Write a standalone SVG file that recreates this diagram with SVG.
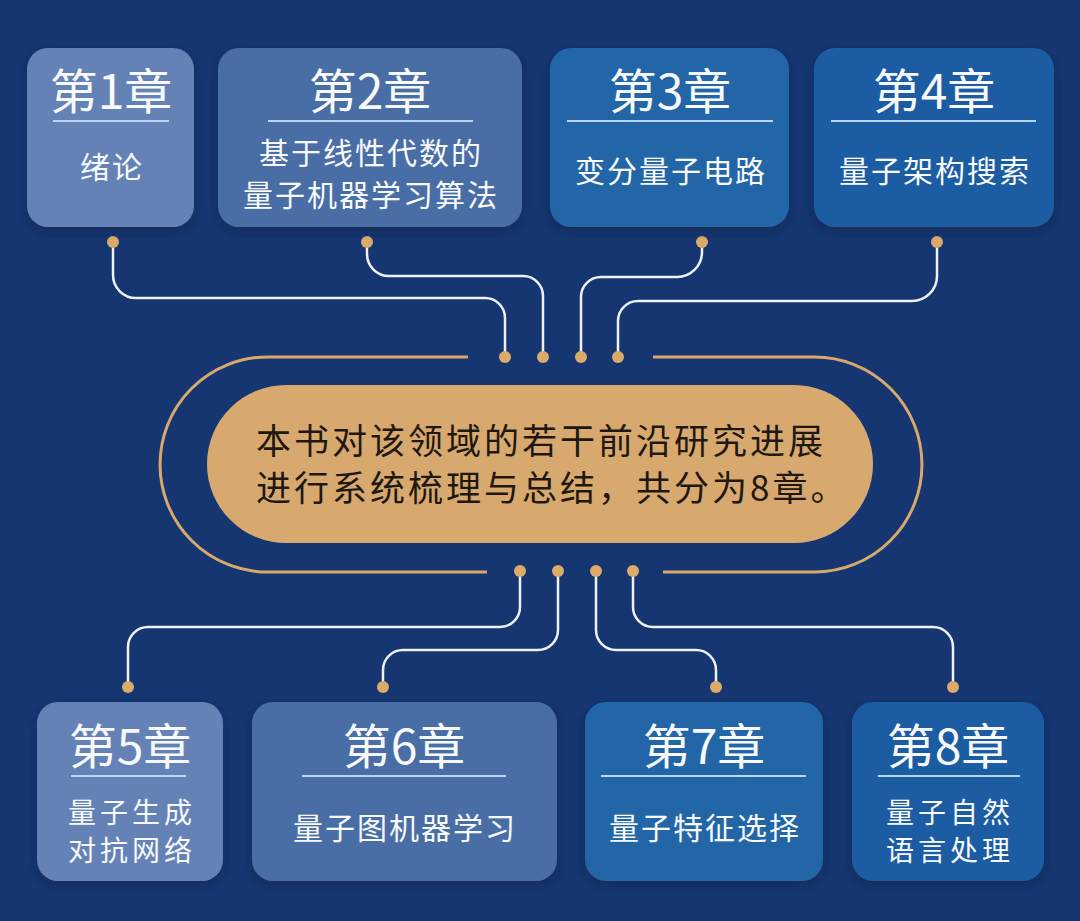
<svg xmlns="http://www.w3.org/2000/svg" width="1080" height="921" viewBox="0 0 1080 921">
<defs>
<style>
.bg{fill:#153670}
.c1{fill:#6582b7}
.c2{fill:#4a6da5}
.c3{fill:#2066a8}
.c4{fill:#1c5ba2}
.box{filter:url(#sh)}
.ttl{font-family:"Noto Sans CJK SC","Noto Sans",sans-serif;font-size:48px;fill:#f7f9fc;text-anchor:middle}
.sub{font-family:"Noto Sans CJK SC","Noto Sans",sans-serif;font-size:30px;fill:#f7f9fc;text-anchor:middle;letter-spacing:2px}
.sub2{font-family:"Noto Sans CJK SC","Noto Sans",sans-serif;font-size:28px;fill:#f7f9fc;text-anchor:middle;letter-spacing:4px}
.ul{stroke:#b7d6f4;stroke-width:2}
.wire{fill:none;stroke:#eef2f8;stroke-width:2.5}
.dot{fill:#dcaa69}
.ring{fill:none;stroke:#d9a86b;stroke-width:3}
.mid{font-family:"Noto Sans CJK SC","Noto Sans",sans-serif;font-size:35px;fill:#1e1810;letter-spacing:3px}
</style>
<filter id="sh" x="-10%" y="-10%" width="120%" height="125%">
<feDropShadow dx="0" dy="4" stdDeviation="4" flood-color="#0a1d45" flood-opacity="0.5"/>
</filter>
</defs>
<rect class="bg" x="0" y="0" width="1080" height="921"/>

<g id="connectors">
<path class="wire" d="M113,242 V275 A23,23 0 0 0 136,298 H485 A20,20 0 0 1 505,318 V357"/>
<path class="wire" d="M367,242 V254 A22,22 0 0 0 389,276 H523 A20,20 0 0 1 543,296 V357"/>
<path class="wire" d="M702,242 V252 A25,25 0 0 1 677,277 H601 A20,20 0 0 0 581,297 V357"/>
<path class="wire" d="M937,242 V276 A25,25 0 0 1 912,301 H638 A20,20 0 0 0 618,321 V357"/>
<path class="wire" d="M520,570 V607 A20,20 0 0 1 500,627 H148 A20,20 0 0 0 128,647 V687"/>
<path class="wire" d="M558,570 V630 A20,20 0 0 1 538,650 H403 A20,20 0 0 0 383,670 V687"/>
<path class="wire" d="M596,570 V630 A20,20 0 0 0 616,650 H696 A20,20 0 0 1 716,670 V687"/>
<path class="wire" d="M633,570 V607 A20,20 0 0 0 653,627 H933 A20,20 0 0 1 953,647 V687"/>
<circle class="dot" cx="113" cy="242" r="6"/>
<circle class="dot" cx="367" cy="242" r="6"/>
<circle class="dot" cx="702" cy="242" r="6"/>
<circle class="dot" cx="937" cy="242" r="6"/>
<circle class="dot" cx="505" cy="357" r="6"/>
<circle class="dot" cx="543" cy="357" r="6"/>
<circle class="dot" cx="581" cy="357" r="6"/>
<circle class="dot" cx="618" cy="357" r="6"/>
<circle class="dot" cx="520" cy="571" r="6"/>
<circle class="dot" cx="558" cy="571" r="6"/>
<circle class="dot" cx="596" cy="571" r="6"/>
<circle class="dot" cx="633" cy="571" r="6"/>
<circle class="dot" cx="128" cy="687" r="6"/>
<circle class="dot" cx="383" cy="687" r="6"/>
<circle class="dot" cx="716" cy="687" r="6"/>
<circle class="dot" cx="953" cy="687" r="6"/>
</g>

<g id="center">
<path class="ring" d="M468,357 H267.5 A107.5,107.5 0 0 0 267.5,572 H487"/>
<path class="ring" d="M653,357 H814.5 A107.5,107.5 0 0 1 814.5,572 H663"/>
<rect x="207" y="385" width="666" height="158" rx="79" fill="#d8a96e"/>
<text class="mid" x="256" y="454">本书对该领域的若干前沿研究进展</text>
<text class="mid" x="256" y="501">进行系统梳理与总结，共分为8章。</text>
</g>

<g id="ch1">
<rect class="box c1" x="27" y="48" width="167" height="179" rx="21"/>
<text class="ttl" x="111" y="109">第1章</text>
<line class="ul" x1="53" y1="121" x2="169" y2="121"/>
<text class="sub" x="112" y="178">绪论</text>
</g>
<g id="ch2">
<rect class="box c2" x="218" y="48" width="304" height="179" rx="21"/>
<text class="ttl" x="370" y="109">第2章</text>
<line class="ul" x1="268" y1="121" x2="473" y2="121"/>
<text class="sub" x="371" y="164">基于线性代数的</text>
<text class="sub" x="371" y="206">量子机器学习算法</text>
</g>
<g id="ch3">
<rect class="box c3" x="550" y="48" width="239" height="179" rx="21"/>
<text class="ttl" x="670" y="109">第3章</text>
<line class="ul" x1="567" y1="121" x2="773" y2="121"/>
<text class="sub" x="671" y="182">变分量子电路</text>
</g>
<g id="ch4">
<rect class="box c4" x="814" y="48" width="240" height="179" rx="21"/>
<text class="ttl" x="934" y="109">第4章</text>
<line class="ul" x1="831" y1="121" x2="1036" y2="121"/>
<text class="sub" x="935" y="182">量子架构搜索</text>
</g>

<g id="ch5">
<rect class="box c1" x="37" y="702" width="186" height="179" rx="21"/>
<text class="ttl" x="130" y="764">第5章</text>
<line class="ul" x1="71" y1="776" x2="186" y2="776"/>
<text class="sub2" x="132" y="823">量子生成</text>
<text class="sub2" x="132" y="861">对抗网络</text>
</g>
<g id="ch6">
<rect class="box c2" x="252" y="702" width="305" height="179" rx="21"/>
<text class="ttl" x="404" y="764">第6章</text>
<line class="ul" x1="302" y1="776" x2="506" y2="776"/>
<text class="sub" x="405" y="839">量子图机器学习</text>
</g>
<g id="ch7">
<rect class="box c3" x="585" y="702" width="238" height="179" rx="21"/>
<text class="ttl" x="704" y="764">第7章</text>
<line class="ul" x1="601" y1="776" x2="806" y2="776"/>
<text class="sub" x="705" y="839">量子特征选择</text>
</g>
<g id="ch8">
<rect class="box c4" x="852" y="702" width="192" height="179" rx="21"/>
<text class="ttl" x="948" y="764">第8章</text>
<line class="ul" x1="878" y1="776" x2="1020" y2="776"/>
<text class="sub2" x="950" y="823">量子自然</text>
<text class="sub2" x="950" y="861">语言处理</text>
</g>
</svg>
